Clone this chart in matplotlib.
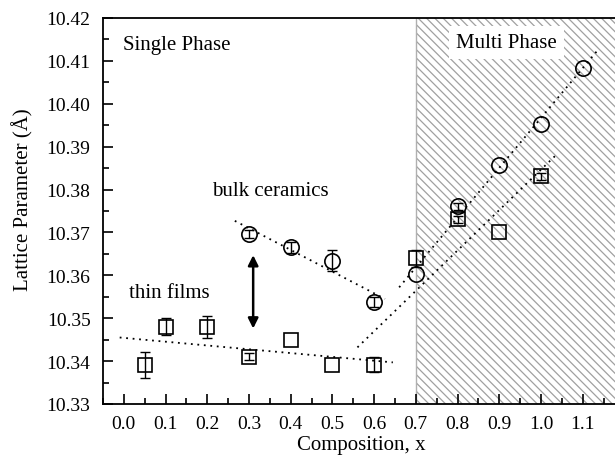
import matplotlib
matplotlib.use("Agg")
import matplotlib.pyplot as plt
import numpy as np
from matplotlib.ticker import MultipleLocator, FormatStrFormatter

plt.rcParams["font.family"] = ["Liberation Serif", "DejaVu Serif"]
plt.rcParams["hatch.color"] = "#a0a0a0"
plt.rcParams["hatch.linewidth"] = 0.9

# thin films (squares)
film_x = [0.05, 0.1, 0.2, 0.3, 0.4, 0.5, 0.6, 0.7, 0.8, 0.9, 1.0]
film_y = [10.3391, 10.3480, 10.3480, 10.3410, 10.3450, 10.3392, 10.3392,
          10.3640, 10.3731, 10.3700, 10.3831]
film_err = [0.0030, 0.0020, 0.0025, 0.0008, 0.0, 0.0, 0.0018,
            0.0020, 0.0008, 0.0, 0.0008]

# bulk ceramics (circles)
bulk_x = [0.3, 0.4, 0.5, 0.6, 0.7, 0.8, 0.9, 1.0, 1.1]
bulk_y = [10.3696, 10.3665, 10.3634, 10.3538, 10.3602, 10.3761, 10.3858,
          10.3954, 10.4083]
bulk_err = [0.0010, 0.0012, 0.0024, 0.0012, 0.0, 0.0008, 0.0, 0.0, 0.0]

# dotted guide lines (x pairs, y pairs)
film_fit_x = [-0.01, 0.645]
film_fit_y = [10.3455, 10.3397]
film_multi_x = [0.56, 1.041]
film_multi_y = [10.3432, 10.3885]
bulk_fit_x = [0.266, 0.626]
bulk_fit_y = [10.3727, 10.3545]
bulk_multi_x = [0.66, 1.137]
bulk_multi_y = [10.3572, 10.4126]

fig = plt.figure(figsize=(6.15, 4.6), dpi=100)
ax = fig.add_axes([0.1675, 0.1196, 0.8325, 0.8391])

ax.axvspan(0.7, 1.3, facecolor="white", edgecolor="#a0a0a0", hatch="\\\\\\\\",
           linewidth=0, zorder=0)
ax.axvline(0.7, color="#b0b0b0", linewidth=1.0, zorder=1)

dots = (0, (1, 2.6))
for lx, ly in [(film_fit_x, film_fit_y), (film_multi_x, film_multi_y),
               (bulk_fit_x, bulk_fit_y), (bulk_multi_x, bulk_multi_y)]:
    ax.plot(lx, ly, color="black", linestyle=dots, linewidth=1.3, zorder=2)


def draw(xs, ys, errs, marker, ms):
    xs, ys, errs = np.array(xs), np.array(ys), np.array(errs)
    m = errs > 0
    ax.errorbar(xs[m], ys[m], yerr=errs[m], fmt="none", ecolor="black",
                elinewidth=1.0, capsize=3.3, capthick=1.0, zorder=3)
    ax.plot(xs, ys, marker, ms=ms, mfc="none", mec="black", mew=1.2,
            linestyle="none", zorder=4)


draw(film_x, film_y, film_err, "s", 9.5)
draw(bulk_x, bulk_y, bulk_err, "o", 11)

ax.annotate("", xy=(0.31, 10.3476), xytext=(0.31, 10.3647),
            arrowprops=dict(arrowstyle="<|-|>", color="black", lw=1.8,
                            mutation_scale=15, shrinkA=0, shrinkB=0))

ax.text(-0.003, 10.4139, "Single Phase", fontsize=15, va="center", ha="left")
ax.text(0.917, 10.4143, "Multi Phase", fontsize=15, va="center", ha="center",
        bbox=dict(facecolor="white", edgecolor="none", pad=5))
ax.text(0.35, 10.3797, "bulk ceramics", fontsize=15, va="center", ha="center")
ax.text(0.11, 10.356, "thin films", fontsize=15, va="center", ha="center")

ax.set_xlim(-0.05, 1.1775)
ax.set_ylim(10.33, 10.42)
ax.xaxis.set_major_locator(MultipleLocator(0.1))
ax.xaxis.set_minor_locator(MultipleLocator(0.05))
ax.yaxis.set_major_locator(MultipleLocator(0.01))
ax.yaxis.set_minor_locator(MultipleLocator(0.005))
ax.xaxis.set_major_formatter(FormatStrFormatter("%.1f"))
ax.yaxis.set_major_formatter(FormatStrFormatter("%.2f"))
ax.tick_params(which="both", direction="in", top=False, right=False,
               labelsize=14, width=1.2)
ax.tick_params(which="major", length=7)
ax.tick_params(axis="y", which="major", pad=9)
ax.tick_params(axis="x", which="major", pad=8)
ax.tick_params(which="minor", length=4)
for s in ["left", "bottom", "top"]:
    ax.spines[s].set_linewidth(1.3)
ax.spines["right"].set_visible(False)

ax.set_xlabel("Composition, x", fontsize=15)
ax.set_ylabel("Lattice Parameter (Å)", fontsize=15)
ax.xaxis.set_label_coords((361 - 103) / 512, -(436 - 405) / 386)
ax.yaxis.set_label_coords(-(103 - 33) / 512, (405 - 200) / 386)

fig.savefig("out.png", dpi=100)
